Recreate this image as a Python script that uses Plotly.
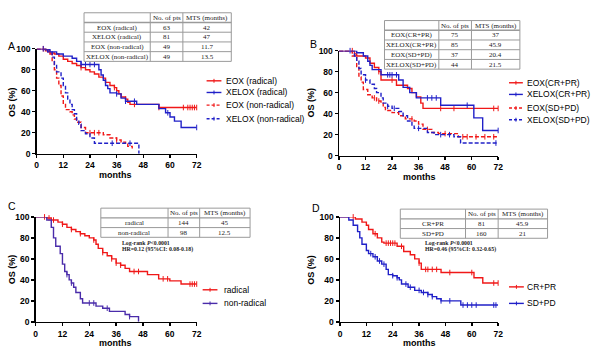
import plotly.graph_objects as go

W, H = 600, 357
RED = "#f01818"
BLUE = "#2020c8"
PURPLE = "#4a2caa"

# ---------------- DATA ----------------
# Panel A
A_names = ["EOX (radical)", "XELOX (radical)", "EOX (non-radical)", "XELOX (non-radical)"]
A_n = ["63", "81", "49", "49"]
A_mts = ["42", "47", "11.7", "13.5"]
A1_t = [0, 4, 6, 8, 10, 12, 14, 16, 18, 20, 22, 24, 26, 28, 30, 31, 33, 35, 36, 37, 38, 40, 41, 42, 55]
A1_s = [100, 98, 96, 95, 93, 90, 88, 86, 84, 82, 80, 78, 76, 73, 72, 68, 65, 63, 60, 57, 54, 52, 49, 47, 44]
A1_end = 72
A1_c = [3, 20, 35, 40, 44, 55, 66, 68, 69, 70, 71, 72]
A2_t = [0, 4, 6, 9, 12, 16, 18, 20, 28, 29, 30, 31, 32, 33, 36, 38, 40, 45, 55, 58, 60, 62, 65]
A2_s = [100, 99, 97, 95, 93, 91, 88, 85, 80, 75, 70, 65, 62, 58, 57, 53, 50, 47, 43, 39, 35, 31, 25]
A2_end = 72
A2_c = [3, 20, 22, 24, 26, 36, 40, 44, 59, 72]
A3_t = [0, 5, 6, 7, 8, 9, 10, 11, 12, 13, 15, 16, 17, 18, 20, 22, 30, 33, 36, 38, 40, 41, 43]
A3_s = [100, 97, 95, 88, 80, 72, 65, 55, 48, 42, 40, 37, 33, 30, 25, 20, 18, 15, 13, 11, 9, 7, 5]
A3_end = 43
A3_c = [24, 26, 28, 36]
A4_t = [0, 5, 7, 8, 9, 11, 12, 13, 14, 15, 16, 17, 18, 19, 20, 22, 24, 26, 46]
A4_s = [100, 97, 92, 85, 78, 72, 65, 58, 52, 47, 42, 38, 32, 28, 22, 19, 15, 10, 0]
A4_end = 46
A4_c = [34, 42]

# Panel B
B_names = ["EOX(CR+PR)", "XELOX(CR+PR)", "EOX(SD+PD)", "XELOX(SD+PD)"]
B_n = ["75", "85", "37", "44"]
B_mts = ["37", "45.9", "20.4", "21.5"]
B1_t = [0, 7, 8, 12, 14, 16, 18, 19, 26, 31, 33, 35, 37, 38]
B1_s = [100, 97, 95, 93, 88, 84, 80, 72, 67, 64, 60, 56, 50, 45]
B1_end = 72
B1_c = [6, 18, 24, 46, 52, 70, 72]
B2_t = [0, 8, 11, 13, 14, 15, 19, 27, 29, 32, 35, 46, 61, 65]
B2_s = [100, 98, 95, 90, 86, 82, 77, 72, 65, 60, 55, 48, 36, 24]
B2_end = 72
B2_c = [5, 22, 23, 24, 26, 40, 42, 44, 58, 72]
B3_t = [0, 6, 8, 9, 10, 11, 13, 15, 17, 19, 20, 21, 24, 27, 30, 34, 36, 38, 42, 45, 54]
B3_s = [100, 95, 85, 75, 70, 63, 58, 55, 52, 50, 46, 43, 41, 38, 35, 33, 30, 25, 22, 21, 18]
B3_end = 72
B3_c = [16, 18, 33, 40, 48, 56, 58, 62, 66, 70]
B4_t = [0, 7, 8, 9, 10, 12, 14, 16, 17, 19, 20, 22, 24, 27, 29, 31, 33, 34, 40, 43, 52, 55]
B4_s = [100, 95, 90, 83, 77, 72, 68, 64, 60, 55, 50, 47, 45, 42, 38, 33, 28, 26, 22, 20, 18, 12]
B4_end = 72
B4_c = [12, 22, 25, 36, 46, 50, 71]

# Panel C
C_names = ["radical", "non-radical"]
C_n = ["144", "98"]
C_mts = ["45", "12.5"]
C_stats = ["Log-rank <i>P</i><0.0001", "HR=0.12 (95%CI: 0.08-0.18)"]
C1_t = [0, 5, 7, 10, 12, 14, 16, 18, 20, 22, 24, 26, 27, 28, 30, 32, 34, 36, 38, 40, 42, 50, 55, 60, 65]
C1_s = [100, 99, 97, 95, 93, 90, 88, 86, 84, 82, 80, 78, 74, 70, 66, 63, 60, 56, 54, 51, 48, 45, 41, 39, 36]
C1_end = 72
C1_c = [4, 6, 8, 12, 16, 20, 26, 30, 34, 36, 38, 44, 46, 57, 59, 69, 70, 71, 72]
C2_t = [0, 5, 7, 8, 9, 11, 12, 13, 14, 15, 16, 17, 18, 20, 21, 27, 30, 33, 40, 42, 46]
C2_s = [100, 97, 90, 80, 72, 65, 55, 48, 45, 40, 37, 33, 28, 22, 18, 15, 13, 10, 7, 5, 0]
C2_end = 46
C2_c = [14, 16, 24, 26, 32, 42]

# Panel D
D_names = ["CR+PR", "SD+PD"]
D_n = ["81", "160"]
D_mts = ["45.9", "21"]
D_stats = ["Log-rank <i>P</i><0.0001", "HR=0.46 (95%CI: 0.32-0.65)"]
D1_t = [0, 7, 10, 12, 13, 15, 17, 19, 20, 26, 29, 32, 34, 36, 37, 46, 61, 65]
D1_s = [100, 98, 95, 92, 88, 84, 80, 76, 75, 72, 67, 64, 60, 56, 50, 47, 42, 37]
D1_end = 72
D1_c = [6, 16, 21, 22, 23, 24, 25, 28, 36, 39, 40, 42, 44, 50, 60, 70, 72]
D2_t = [0, 4, 6, 8, 9, 10, 12, 13, 15, 17, 19, 21, 22, 24, 26, 27, 28, 31, 34, 37, 40, 42, 44, 46, 55]
D2_s = [100, 97, 92, 86, 80, 74, 68, 65, 62, 58, 55, 50, 45, 44, 42, 40, 36, 33, 30, 28, 26, 24, 22, 20, 16]
D2_end = 72
D2_c = [14, 16, 18, 20, 24, 26, 30, 32, 36, 38, 40, 42, 46, 50, 56, 58, 60, 62, 70, 71]

HEADER = ["", "No. of pts", "MTS (months)"]
XTICKS = [0, 12, 24, 36, 48, 60, 72]
YTICKS = [0, 20, 40, 60, 80, 100]


# ---------------- helpers ----------------
def px(x):
    return x / W


def py(y):
    return 1 - y / H


def step_val(ts, ss, t):
    v = ss[0]
    for a, b in zip(ts, ss):
        if a <= t:
            v = b
    return v


fig = go.Figure()

panels = {
    "A": dict(xd=(35, 197), yd=(45, 153)),
    "B": dict(xd=(341, 502), yd=(47, 155)),
    "C": dict(xd=(34, 197), yd=(218, 326)),
    "D": dict(xd=(342, 502), yd=(218, 326)),
}
axmap = {"A": ("x", "y", ""), "B": ("x2", "y2", "2"), "C": ("x3", "y3", "3"), "D": ("x4", "y4", "4")}

axis_common = dict(showline=True, linecolor="black", linewidth=1.5, ticks="outside",
                   ticklen=3, tickwidth=1.5, tickcolor="black", showgrid=False, zeroline=False,
                   tickfont=dict(family="Liberation Sans, Arial", size=8.5, color="black", weight="bold"))

layout_axes = {}
for key, p in panels.items():
    xa, ya, suf = axmap[key]
    layout_axes["xaxis" + suf] = dict(axis_common, domain=[px(p["xd"][0]), px(p["xd"][1])],
                                      range=[0, 72], tickvals=XTICKS, anchor=ya, fixedrange=True)
    layout_axes["yaxis" + suf] = dict(axis_common, domain=[py(p["yd"][1]), py(p["yd"][0])],
                                      range=[0, 100], tickvals=YTICKS, anchor=xa, fixedrange=True)


def add_curve(panel, t, s, end, cens, color, dash):
    xa, ya, _ = axmap[panel]
    xs = list(t) + [end]
    ys = list(s) + [s[-1]]
    fig.add_trace(go.Scatter(x=xs, y=ys, mode="lines", line=dict(color=color, width=1.4, dash=dash, shape="hv"),
                             xaxis=xa, yaxis=ya, showlegend=False, cliponaxis=False, hoverinfo="skip"))
    cy = [step_val(t, s, c) for c in cens]
    fig.add_trace(go.Scatter(x=cens, y=cy, mode="markers",
                             marker=dict(symbol="line-ns", size=4, line=dict(color=color, width=1)),
                             xaxis=xa, yaxis=ya, showlegend=False, cliponaxis=False, hoverinfo="skip"))


DASH = "4px,2px"
add_curve("A", A1_t, A1_s, A1_end, A1_c, RED, "solid")
add_curve("A", A2_t, A2_s, A2_end, A2_c, BLUE, "solid")
add_curve("A", A3_t, A3_s, A3_end, A3_c, RED, DASH)
add_curve("A", A4_t, A4_s, A4_end, A4_c, BLUE, DASH)
add_curve("B", B1_t, B1_s, B1_end, B1_c, RED, "solid")
add_curve("B", B2_t, B2_s, B2_end, B2_c, BLUE, "solid")
add_curve("B", B3_t, B3_s, B3_end, B3_c, RED, DASH)
add_curve("B", B4_t, B4_s, B4_end, B4_c, BLUE, DASH)
add_curve("C", C1_t, C1_s, C1_end, C1_c, RED, "solid")
add_curve("C", C2_t, C2_s, C2_end, C2_c, PURPLE, "solid")
add_curve("D", D1_t, D1_s, D1_end, D1_c, RED, "solid")
add_curve("D", D2_t, D2_s, D2_end, D2_c, BLUE, "solid")

shapes = []
annotations = []


def text(x, y, s, size=9, bold=False, family="Liberation Sans, Arial", xanchor="center", angle=0, color="black"):
    annotations.append(dict(x=px(x), y=py(y), xref="paper", yref="paper", text=s, showarrow=False,
                            xanchor=xanchor, yanchor="middle", textangle=angle, borderpad=0,
                            font=dict(family=family, size=size, color=color, weight="bold" if bold else "normal")))


def table(left, c1, c2, right, top, rowh, names, ns, mts):
    nrows = len(names) + 1
    bottom = top + rowh * nrows
    lc = "#9a9a9a"
    shapes.append(dict(type="rect", xref="paper", yref="paper", x0=px(left), x1=px(right), y0=py(bottom), y1=py(top),
                       line=dict(color=lc, width=1), fillcolor="white", layer="above"))
    for xv in (c1, c2):
        shapes.append(dict(type="line", xref="paper", yref="paper", x0=px(xv), x1=px(xv), y0=py(bottom), y1=py(top),
                           line=dict(color=lc, width=1)))
    for i in range(1, nrows):
        yv = top + i * rowh
        shapes.append(dict(type="line", xref="paper", yref="paper", x0=px(left), x1=px(right), y0=py(yv), y1=py(yv),
                           line=dict(color=lc, width=1.3 if i == 1 else 1)))
    rows = [HEADER] + [[a, b, c] for a, b, c in zip(names, ns, mts)]
    centers = [(left + c1) / 2, (c1 + c2) / 2, (c2 + right) / 2]
    for r, row in enumerate(rows):
        yc = top + rowh * (r + 0.5)
        for cx, val in zip(centers, row):
            if val:
                text(cx, yc + 0.3, val, size=7, family="Liberation Serif, Times New Roman", color="#222")


table(83, 150, 183, 232, 8, 10, A_names, A_n, A_mts)
table(387, 442, 475, 524, 16, 10, B_names, B_n, B_mts)
table(100, 168, 200, 251, 209, 10, C_names, C_n, C_mts)
table(403, 469, 502, 552, 210, 10, D_names, D_n, D_mts)

# stats text
for (x0, lines) in ((120, C_stats), (427, D_stats)):
    for i, ln in enumerate(lines):
        text(x0, 245 + 7 * i, ln, size=5.8, bold=True, family="Liberation Serif, Times New Roman",
             xanchor="left", color="#222")


def legend(x0, x1, xt, ys, names, colors, dashes):
    for yv, nm, col, ds in zip(ys, names, colors, dashes):
        shapes.append(dict(type="line", xref="paper", yref="paper", x0=px(x0), x1=px(x1), y0=py(yv), y1=py(yv),
                           line=dict(color=col, width=1.4, dash="3px,2px" if ds != "solid" else "solid")))
        xm = (x0 + x1) / 2
        shapes.append(dict(type="line", xref="paper", yref="paper", x0=px(xm), x1=px(xm), y0=py(yv - 2), y1=py(yv + 2),
                           line=dict(color=col, width=1)))
        text(xt, yv, nm, size=8.5, xanchor="left")


legend(207, 222, 226, [78, 90, 103, 117], A_names, [RED, BLUE, RED, BLUE], ["solid", "solid", "d", "d"])
legend(513, 527, 530, [80, 92, 106, 118], B_names, [RED, BLUE, RED, BLUE], ["solid", "solid", "d", "d"])
legend(203, 218, 224, [293, 307], C_names, [RED, PURPLE], ["solid", "solid"])
legend(513, 528, 530, [290, 307], D_names, [RED, BLUE], ["solid", "solid"])

# panel letters, axis titles
for lab, (x, y) in {"A": (10, 42), "B": (315, 40), "C": (10, 207), "D": (318, 209)}.items():
    text(x, y, lab, size=10.5)
for (x, y) in ((10, 100), (313, 100), (10, 272), (313, 272)):
    text(x, y, "OS (%)", size=9, bold=True, angle=-90)
for (x, y) in ((115, 174.5), (422, 176.5), (115, 347.5), (422, 347.5)):
    text(x, y, "months", size=9, bold=True)

fig.update_layout(width=W, height=H, margin=dict(l=0, r=0, t=0, b=0), paper_bgcolor="white",
                  plot_bgcolor="white", showlegend=False, shapes=shapes, annotations=annotations, **layout_axes)

fig.write_html("out.html", config={"displayModeBar": False, "staticPlot": True},
               post_script="document.body.style.margin='0';document.body.style.overflow='hidden';")
